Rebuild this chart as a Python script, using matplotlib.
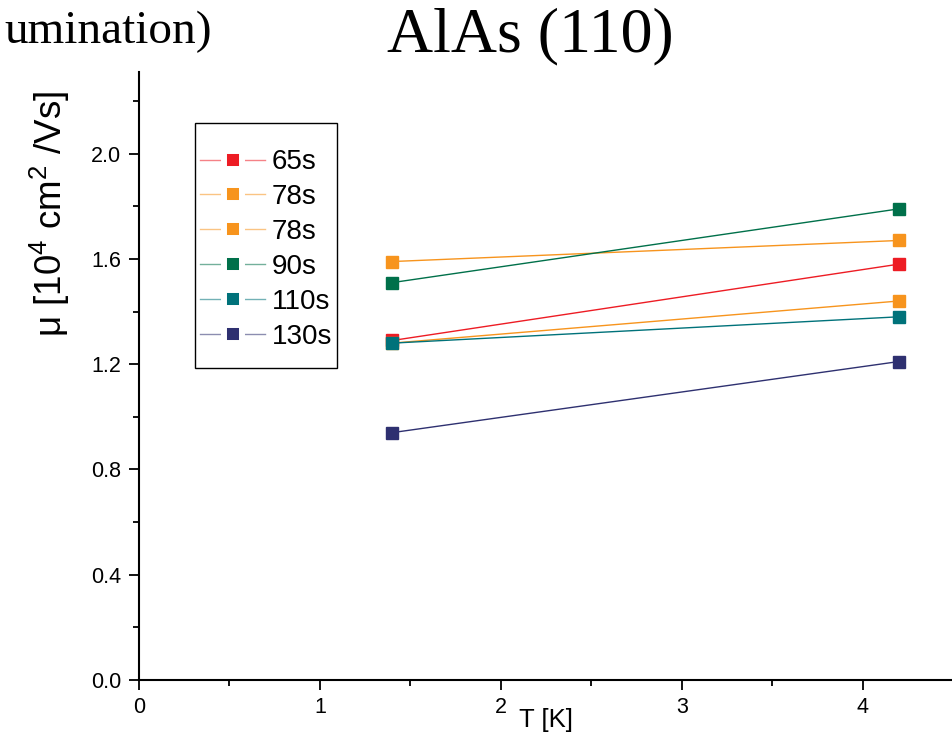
import numpy as np
import matplotlib.pyplot as plt
from matplotlib.ticker import MultipleLocator
from matplotlib.legend_handler import HandlerLine2DCompound

# data
T = [1.4, 4.2]
labels = ['65s', '78s', '78s', '90s', '110s', '130s']
mu_65 = [1.29, 1.58]
mu_78a = [1.59, 1.67]
mu_78b = [1.28, 1.44]
mu_90 = [1.51, 1.79]
mu_110 = [1.28, 1.38]
mu_130 = [0.94, 1.21]
series = [mu_65, mu_78a, mu_78b, mu_90, mu_110, mu_130]
colors = ['#ED1C24', '#F7941D', '#F7941D', '#00704A', '#00727A', '#2E3070']

plt.rcParams['font.family'] = ['Liberation Sans', 'DejaVu Sans']

fig = plt.figure(figsize=(9.53, 7.32), dpi=100)
ax = fig.add_axes([0.1459, 0.0710, 0.8541, 0.8306])

for y, c, lab in zip(series, colors, labels):
    ax.plot(T, y, '-', color=c, lw=1.0, marker='s', ms=8,
            markeredgecolor=c, label=lab)

ax.set_xlim(0, 4.5)
ax.set_ylim(0, 2.31)
ax.xaxis.set_major_locator(MultipleLocator(1))
ax.xaxis.set_minor_locator(MultipleLocator(0.5))
ax.yaxis.set_major_locator(MultipleLocator(0.4))
ax.yaxis.set_minor_locator(MultipleLocator(0.2))
ax.yaxis.set_major_formatter(plt.FormatStrFormatter('%.1f'))

for s in ['top', 'right']:
    ax.spines[s].set_visible(False)
for s in ['left', 'bottom']:
    ax.spines[s].set_linewidth(1.5)

ax.tick_params(which='major', direction='out', length=7, width=1.3, labelsize=15.5)
ax.tick_params(axis='x', which='major', pad=5)
ax.tick_params(axis='y', which='major', pad=6)
ax.tick_params(which='minor', direction='out', length=4, width=1.3)

ax.set_xlabel('T [K]', fontsize=18.5, labelpad=-7)
ax.set_ylabel(r'μ [10$^{\mathregular{4}}$ cm$^{\mathregular{2}}$ /Vs]', fontsize=26.5,
              va='center')
ax.yaxis.set_label_coords(-0.11, 0.766)


# legend marker sits in a gap of the line
def legend_style(handle, orig):
    handle.update_from(orig)
    handle.set_markersize(12.8)
    handle.set_markeredgecolor('white')
    handle.set_markeredgewidth(4.3)


leg = ax.legend(loc='upper left', bbox_to_anchor=(0.0749, 0.873), borderaxespad=0,
                fontsize=20, numpoints=1, handlelength=2.34, handletextpad=0.25,
                labelspacing=0.32, borderpad=0, frameon=False,
                handler_map={plt.Line2D: HandlerLine2DCompound(update_func=legend_style)})
for ln in leg.get_lines():
    ln.set_alpha(0.55)

# frame drawn by hand: little padding on the sides, more above and below
fig.canvas.draw()
inv = fig.transFigure.inverted()
bb = leg.get_window_extent()
right = max(t.get_window_extent().x1 for t in leg.get_texts())
x0, y0 = inv.transform((bb.x0 - 5, bb.y0 - 18))
x1, y1 = inv.transform((right + 5, bb.y1 + 26))
frame = plt.Rectangle((x0, y0), x1 - x0, y1 - y0, transform=fig.transFigure,
                      fill=False, edgecolor='black', linewidth=1.0)
fig.add_artist(frame)

fig.text(0.556, 0.95, 'AlAs (110)', fontsize=46, family='Liberation Serif',
         ha='center', va='center')
fig.text(0.222, 0.957, 'umination)', fontsize=34, family='Liberation Serif',
         ha='right', va='center')

fig.savefig('out.png', dpi=100)
